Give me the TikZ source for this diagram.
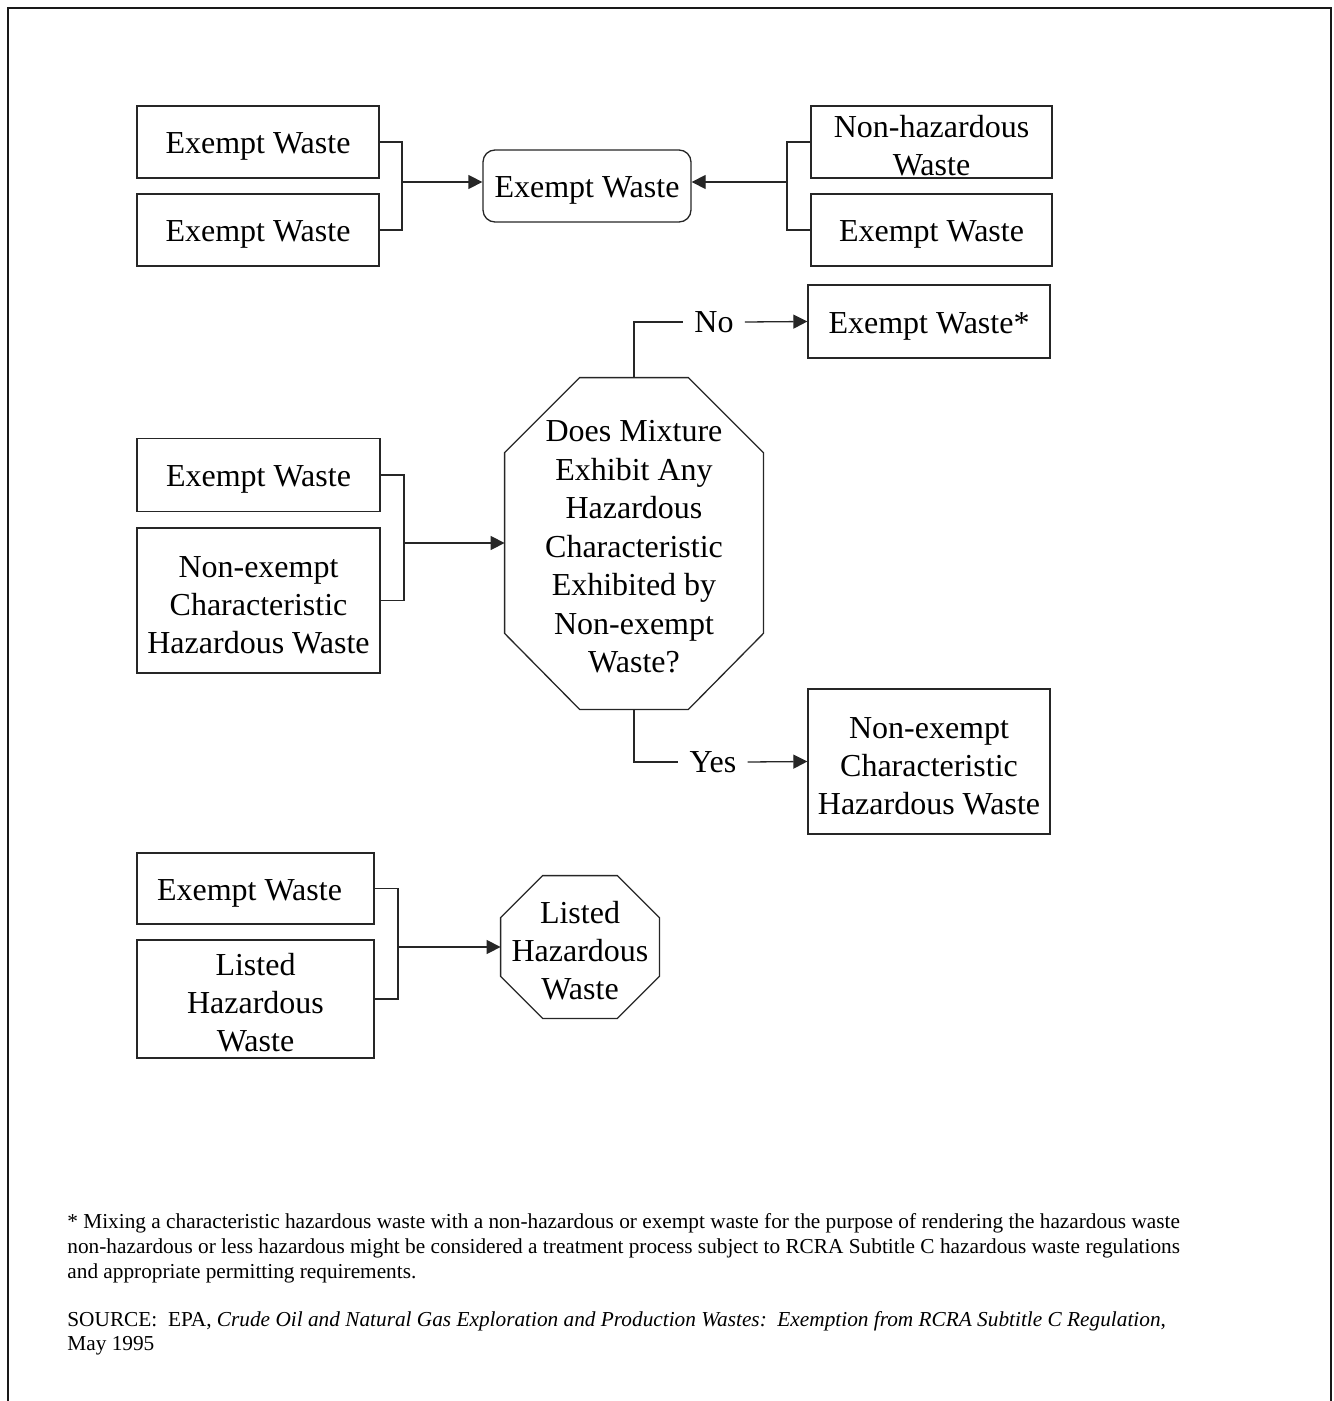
\documentclass[tikz,border=0pt]{standalone}
\usepackage{fontspec}
\setmainfont{Liberation Serif}
\usetikzlibrary{arrows.meta,calc}
\newcommand\tstrut{\rule{0pt}{15pt}}
\newcommand\qstrut{\rule{0pt}{14pt}}
\begin{document}
\begin{tikzpicture}[x=0.5pt,y=-0.5pt,
  mainfont/.style={font=\fontsize{16pt}{19pt}\selectfont},
  wbox/.style={draw=black!85, line width=0.65pt, rectangle, inner sep=0pt, align=center, mainfont},
  rbox/.style={wbox, rounded corners=6pt},
  txt/.style={inner sep=0pt, align=center, mainfont},
  lbl/.style={inner sep=5.5pt, mainfont},
  conn/.style={draw=black!85, line width=0.65pt},
  arr/.style={conn, -{Triangle[length=7pt,width=7pt]}},
  fn/.style={inner sep=0pt, anchor=base west, font=\fontsize{10.65pt}{12.5pt}\selectfont},
  frame/.style={line width=1.2pt, draw=black!90}
]
\useasboundingbox (0,0) rectangle (1333,1401);
\draw[frame] (8,1401) -- (8,8) -- (1331,8) -- (1331,1401);

% group 1
\node[wbox, minimum width=121pt, minimum height=36pt] (a1) at (258,142) {\tstrut Exempt Waste};
\node[wbox, minimum width=121pt, minimum height=36pt] (a2) at (258,230) {\tstrut Exempt Waste};
\node[rbox, minimum width=104pt, minimum height=36pt] (r) at (587,186) {\tstrut Exempt Waste};
\node[wbox, minimum width=120.5pt, minimum height=36pt] (b1) at (931.5,142) {\tstrut Non-hazardous\\Waste};
\node[wbox, minimum width=120.5pt, minimum height=36pt] (b2) at (931.5,230) {\tstrut Exempt Waste};
\coordinate (j1) at (402,182);
\draw[conn] (a1.east) -| (j1) |- (a2.east);
\draw[arr] (j1) -- (j1 -| r.west);
\coordinate (j2) at (787,182);
\draw[conn] (b1.west) -| (j2) |- (b2.west);
\draw[arr] (j2) -- (j2 -| r.east);

% group 2
\node[wbox, minimum width=121.5pt, minimum height=36.5pt] (c1) at (258.5,475) {\tstrut Exempt Waste};
\node[wbox, minimum width=121.5pt, minimum height=72.5pt] (c2) at (258.5,600.5) {\tstrut Non-exempt\\Characteristic\\Hazardous Waste};
\node[txt, font=\fontsize{16pt}{19.25pt}\selectfont, minimum width=129pt, minimum height=165.5pt] (q) at (634,543.5) {\qstrut Does Mixture\\Exhibit Any\\Hazardous\\Characteristic\\Exhibited by\\Non-exempt\\Waste?};
\draw[conn] ($(q.north west)+(75,0)$) -- ($(q.north east)+(-75,0)$) -- ($(q.north east)+(0,75)$) -- ($(q.south east)+(0,-76)$) -- ($(q.south east)+(-75,0)$) -- ($(q.south west)+(75,0)$) -- ($(q.south west)+(0,-76)$) -- ($(q.north west)+(0,75)$) -- cycle;
\coordinate (j3) at (404,543);
\draw[conn] (c1.east) -| (j3) |- (c2.east);
\draw[arr] (j3) -- (j3 -| q.west);

\node[wbox, minimum width=121pt, minimum height=36.5pt] (ews) at (929,321.5) {\tstrut Exempt Waste*};
\node[lbl] (no) at (714,322) {No};
\draw[conn] (q.north) |- (no.west);
\draw[arr] (no.east) -- (ews.west);

\node[wbox, minimum width=121pt, minimum height=72.5pt] (ne) at (929,761.5) {\tstrut Non-exempt\\Characteristic\\Hazardous Waste};
\node[lbl] (yes) at (713,762) {Yes};
\draw[conn] (q.south) |- (yes.west);
\draw[arr] (yes.east) -- (ne.west);

% group 3
\node[wbox, minimum width=118.5pt, minimum height=35.5pt] (d1) at (255.5,888.5) {\tstrut Exempt Waste\hspace*{6pt}};
\node[wbox, minimum width=118.5pt, minimum height=59pt] (d2) at (255.5,999) {\tstrut Listed\\Hazardous\\Waste};
\node[txt, minimum width=79pt, minimum height=71pt] (lh) at (580,947) {\tstrut Listed\\Hazardous\\Waste};
\draw[conn] ($(lh.north west)+(42,0)$) -- ($(lh.north east)+(-42,0)$) -- ($(lh.north east)+(0,42)$) -- ($(lh.south east)+(0,-42)$) -- ($(lh.south east)+(-42,0)$) -- ($(lh.south west)+(42,0)$) -- ($(lh.south west)+(0,-42)$) -- ($(lh.north west)+(0,42)$) -- cycle;
\coordinate (j4) at (398,947);
\draw[conn] (d1.east) -| (j4) |- (d2.east);
\draw[arr] (j4) -- (lh.west);

% footnotes
\node[fn] (f1) at (67,1228) {* Mixing a characteristic hazardous waste with a non-hazardous or exempt waste for the purpose of rendering the hazardous waste};
\node[fn] (f2) at (67,1253) {non-hazardous or less hazardous might be considered a treatment process subject to RCRA Subtitle C hazardous waste regulations};
\node[fn] (f3) at (67,1278) {and appropriate permitting requirements.};
\node[fn] (s1) at (67,1326) {SOURCE:\ \ EPA, \textit{Crude Oil and Natural Gas Exploration and Production Wastes:\ \ Exemption from RCRA Subtitle C Regulation},};
\node[fn] (s2) at (67,1350) {May 1995};
\end{tikzpicture}
\end{document}
